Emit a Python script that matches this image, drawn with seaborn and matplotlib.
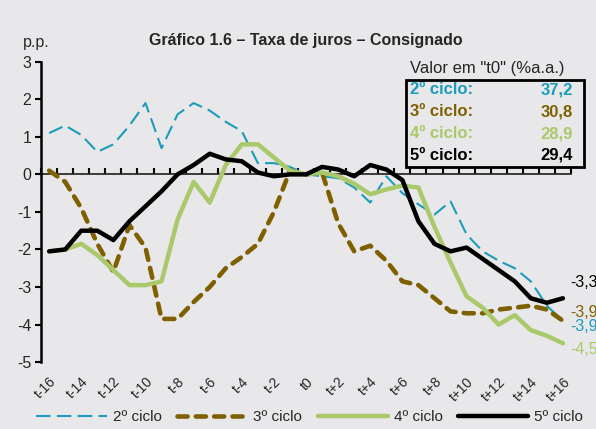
import numpy as np
import pandas as pd
import seaborn as sns
import matplotlib.pyplot as plt
from matplotlib.patches import Rectangle
from matplotlib.lines import Line2D

sns.set_theme(style="white")
plt.rcParams['font.family'] = ['Liberation Sans', 'DejaVu Sans']
plt.rcParams['axes.unicode_minus'] = False

# periods t-16 ... t+16
periods = [f"t{k:+d}" if k != 0 else "t0" for k in range(-16, 17)]

ciclo2 = [1.1, 1.3, 1.05, 0.6, 0.8, 1.3, 1.9, 0.7, 1.6, 1.9, 1.7, 1.4, 1.15, 0.3, 0.3,
          0.2, 0.0, -0.05, -0.1, -0.35, -0.75, -0.05, -0.5, -0.8, -1.07, -0.72, -1.6,
          -2.05, -2.3, -2.5, -2.85, -3.5, -3.9]
ciclo3 = [0.1, -0.2, -0.9, -1.85, -2.6, -1.35, -1.95, -3.85, -3.85, -3.4, -3.0, -2.5,
          -2.2, -1.85, -1.0, 0.1, 0.0, 0.05, -1.3, -2.05, -1.9, -2.3, -2.85, -2.95, -3.3,
          -3.65, -3.7, -3.7, -3.6, -3.55, -3.5, -3.6, -3.9]
ciclo4 = [-2.05, -2.0, -1.85, -2.15, -2.55, -2.95, -2.95, -2.85, -1.2, -0.2, -0.75, 0.25,
          0.8, 0.8, 0.45, 0.1, 0.0, 0.05, -0.05, -0.25, -0.53, -0.4, -0.3, -0.35, -1.4,
          -2.35, -3.25, -3.55, -4.0, -3.75, -4.15, -4.3, -4.5]
ciclo5 = [-2.05, -2.0, -1.5, -1.5, -1.75, -1.25, -0.85, -0.45, 0.0, 0.25, 0.55, 0.4, 0.35,
          0.05, -0.05, 0.0, 0.0, 0.2, 0.13, -0.05, 0.25, 0.13, -0.15, -1.25, -1.85, -2.05,
          -1.95, -2.25, -2.55, -2.85, -3.3, -3.42, -3.3]

nomes = ["2º ciclo", "3º ciclo", "4º ciclo", "5º ciclo"]
valor_t0 = ["37,2", "30,8", "28,9", "29,4"]
cores = ["#1c9cbc", "#7f6000", "#a9c96b", "#000000"]

x = np.arange(len(periods))
df = pd.DataFrame({"x": x, "2º ciclo": ciclo2, "3º ciclo": ciclo3,
                   "4º ciclo": ciclo4, "5º ciclo": ciclo5})

bg = "#e8e8ea"
fig = plt.figure(figsize=(5.96, 4.29), dpi=100, facecolor=bg)
ax = fig.add_axes([0.069, 0.156, 0.889, 0.70])
ax.set_facecolor(bg)

estilos = [
    dict(lw=1.5, dashes=(7.0, 3.0)),
    dict(lw=3.3, dashes=(2.2, 1.8), dash_capstyle="round"),
    dict(lw=3.2),
    dict(lw=3.2),
]
for nome, cor, est in zip(nomes, cores, estilos):
    est = dict(est)
    lw = est.pop("lw")
    sns.lineplot(data=df, x="x", y=nome, color=cor, linewidth=lw, ax=ax,
                 zorder=4, **est)

ax.set_xlim(-0.5, 32.5)
ax.set_ylim(-5, 3)
ax.set_yticks(range(-5, 4))
ax.set_yticklabels([str(v) for v in range(-5, 4)], fontsize=11.5)
ax.set_xticks(x[::2])
ax.set_xticklabels(periods[::2], rotation=45, ha="right", rotation_mode="anchor",
                   fontsize=10)
ax.tick_params(axis="x", length=0, pad=9)
ax.tick_params(axis="y", direction="out", length=4, width=1.5, color="black", pad=3,
               left=True)
ax.set_xlabel("")
ax.set_ylabel("")
for s in ["top", "right", "bottom"]:
    ax.spines[s].set_visible(False)
ax.spines["left"].set_color("black")
ax.spines["left"].set_linewidth(1.8)

# zero axis with tick marks between categories
sec = ax.secondary_xaxis(5 / 8)
sec.set_xticks(np.arange(-0.5, 33, 1.0))
sec.set_xticklabels([])
sec.tick_params(direction="out", length=4, width=1.5, color="black")
sec.spines["bottom"].set_linewidth(1.8)
sec.spines["bottom"].set_color("black")

# end labels
desloc = [-0.15, 0.22, -0.17, 0.42]
for serie, cor, d in zip([ciclo2, ciclo3, ciclo4, ciclo5], cores, desloc):
    ax.text(32.45, serie[-1] + d, f"{serie[-1]:.1f}".replace(".", ","), color=cor,
            fontsize=11.5, va="center", ha="left", clip_on=False)

fig.text(0.513, 0.905, "Gráfico 1.6 – Taxa de juros – Consignado", ha="center",
         va="center", fontsize=11.5, fontweight="bold")
fig.text(0.038, 0.902, "p.p.", ha="left", va="center", fontsize=11.5)

# box with values at t0
fig.text(410 / 596, 1 - 68 / 429, 'Valor em "t0" (%a.a.)', ha="left", va="center",
         fontsize=12)
fig.patches.append(Rectangle((406 / 596, 1 - 167 / 429), 178 / 596, 87 / 429,
                             transform=fig.transFigure, fill=False, ec="black",
                             lw=2.0, zorder=5))
for k, (nome, val, cor) in enumerate(zip(nomes, valor_t0, cores)):
    yy = 1 - (90 + 21.8 * k) / 429
    fig.text(410 / 596, yy, nome + ":", color=cor, fontsize=12, fontweight="bold",
             ha="left", va="center")
    fig.text(573 / 596, yy, val, color=cor, fontsize=12, fontweight="bold",
             ha="right", va="center")

handles = [
    Line2D([], [], color=cores[0], lw=1.5, dashes=(7.0, 3.0)),
    Line2D([], [], color=cores[1], lw=3.3, dashes=(2.2, 1.8), dash_capstyle="round"),
    Line2D([], [], color=cores[2], lw=3.2),
    Line2D([], [], color=cores[3], lw=3.2),
]
fig.legend(handles, nomes, loc="center", bbox_to_anchor=(0.52, 1 - 417 / 429), ncol=4,
           frameon=False, fontsize=11, handlelength=4.6, handletextpad=0.4,
           columnspacing=1.0)

fig.savefig("out.png", dpi=100, facecolor=bg)
